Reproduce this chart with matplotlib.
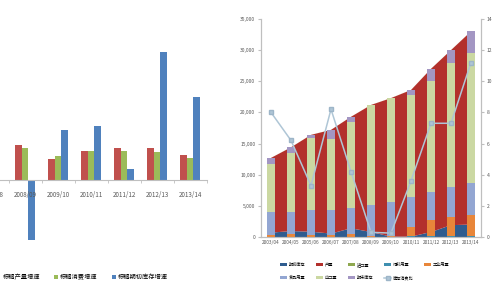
import matplotlib.pyplot as plt
import numpy as np
from matplotlib.ticker import FuncFormatter

plt.rcParams['font.family'] = ['Noto Sans CJK SC', 'DejaVu Sans']

# left chart: growth rates (%)
growth_years = ['2007/08', '2008/09', '2009/10', '2010/11', '2011/12', '2012/13', '2013/14']
prod_growth = [np.nan, 10.0, 6.0, 8.3, 9.1, 9.1, 7.1]
cons_growth = [np.nan, 9.1, 6.9, 8.3, 8.3, 8.0, 6.3]
stock_growth = [np.nan, -17.1, 14.3, 15.4, 3.1, 36.6, 23.7]

# right chart: supply / demand balance (thousand tonnes)
years = ['2003/04', '2004/05', '2005/06', '2006/07', '2007/08', '2008/09',
         '2009/10', '2010/11', '2011/12', '2012/13', '2013/14']
begin_stock = [700, 950, 850, 550, 1400, 800, 60, 60, 800, 1900, 2000]
production = [11990, 13440, 15540, 16640, 17890, 20390, 22230, 23530, 26190, 28090, 30990]
imports = [10, 10, 10, 10, 10, 10, 10, 10, 10, 10, 10]
feed_use = [50, 50, 60, 60, 70, 70, 80, 100, 150, 200, 200]
industrial_use = [300, 400, 300, 300, 400, 150, 150, 1500, 2500, 3000, 3300]
food_use = [3650, 3550, 3940, 3940, 4130, 4880, 5370, 4800, 4550, 4800, 5100]
exports = [7750, 9550, 11550, 11500, 13900, 16040, 16640, 16400, 17900, 20000, 21000]
end_stock = [950, 850, 550, 1400, 800, 60, 60, 800, 1900, 2000, 3400]
stock_ratio = [8.0, 6.2, 3.3, 8.2, 4.2, 0.3, 0.25, 3.6, 7.3, 7.3, 11.2]

grey = '#BFBFBF'
txt = '#595959'

fig = plt.figure(figsize=(5, 3), dpi=100)

# ---- left chart (cut off at the left edge) ----
ax1 = fig.add_axes([-0.049, 0.1667, 0.462, 0.7])
x = np.arange(len(growth_years))
w = 0.21
b1 = ax1.bar(x - w, prod_growth, w, color='#C0504D', label='棕榈产量增速')
b2 = ax1.bar(x, cons_growth, w, color='#9BBB59', label='棕榈消费增速')
b3 = ax1.bar(x + w, stock_growth, w, color='#4F81BD', label='棕榈期初库存增速')
ax1.set_xlim(-0.5, len(growth_years) - 0.5)
ax1.set_ylim(-20, 40)
for s in ['left', 'right', 'top']:
    ax1.spines[s].set_visible(False)
ax1.spines['bottom'].set_position(('data', 0))
ax1.spines['bottom'].set_color(grey)
ax1.set_yticks([])
ax1.set_xticks(x, growth_years, fontsize=4.5, color=txt)
ax1.set_xticks(np.arange(-0.5, len(growth_years)), minor=True)
ax1.tick_params(axis='x', which='major', length=0, pad=8)
ax1.tick_params(axis='x', which='minor', length=2.5, color=grey)

fig.legend(handles=[b1, b2, b3], loc='upper left', bbox_to_anchor=(-0.008, 0.09),
           ncol=3, frameon=False, fontsize=4.5, handlelength=0.7, handleheight=0.7,
           handletextpad=0.35, columnspacing=2.2, borderpad=0, borderaxespad=0)

# ---- right chart ----
ax2 = fig.add_axes([0.522, 0.21, 0.44, 0.727])
xr = np.arange(len(years))
areas = ax2.stackplot(xr, begin_stock, production, imports,
                      colors=['#2F5C8F', '#B3302C', '#8EA84F'],
                      labels=['期初库存', '产量', '进口量'], zorder=1)

demand = [(feed_use, '#3E8FB0', '饲料用量'),
          (industrial_use, '#E8863A', '工业用量'),
          (food_use, '#93A6D2', '食品用量'),
          (exports, '#CBD8A2', '出口量'),
          (end_stock, '#A396C3', '期末库存')]
bottom = np.zeros(len(years))
bars = []
for vals, color, label in demand:
    bars.append(ax2.bar(xr, vals, 0.4, bottom=bottom, color=color, label=label, zorder=3))
    bottom += np.array(vals)

ax2.set_xlim(-0.5, len(years) - 0.5)
ax2.set_ylim(0, 35000)
ax2.set_yticks(np.arange(0, 35001, 5000))
ax2.yaxis.set_major_formatter(FuncFormatter(lambda v, p: f'{v:,.0f}'))
ax2.set_xticks(xr, years)
ax2.tick_params(axis='x', length=0, pad=2.5, labelsize=3.4, labelcolor=txt)
ax2.tick_params(axis='y', length=2, pad=2, labelsize=3.6, labelcolor=txt, color=grey)
ax2.spines['top'].set_visible(False)
for s in ['left', 'right', 'bottom']:
    ax2.spines[s].set_color(grey)

ax3 = ax2.twinx()
line, = ax3.plot(xr, stock_ratio, color='#AFC6D6', lw=1.1, marker='s', ms=2.2,
                 mec='#9DB5C8', label='库存消费比')
ax3.set_ylim(0, 14)
ax3.set_yticks(np.arange(0, 15, 2))
ax3.tick_params(axis='y', length=2, pad=2, labelsize=3.6, labelcolor=txt, color=grey)
ax3.spines['top'].set_visible(False)
for s in ['left', 'right', 'bottom']:
    ax3.spines[s].set_color(grey)

handles = [areas[0], bars[2], areas[1], bars[3], areas[2], bars[4], bars[0], line, bars[1]]
fig.legend(handles=handles, loc='upper left', bbox_to_anchor=(0.56, 0.125),
           ncol=5, frameon=False, fontsize=3, handlelength=1.7, handleheight=0.8,
           handletextpad=0.4, columnspacing=2.6, labelspacing=2.0, borderpad=0,
           borderaxespad=0, numpoints=1)

fig.savefig('out.png', dpi=100)
